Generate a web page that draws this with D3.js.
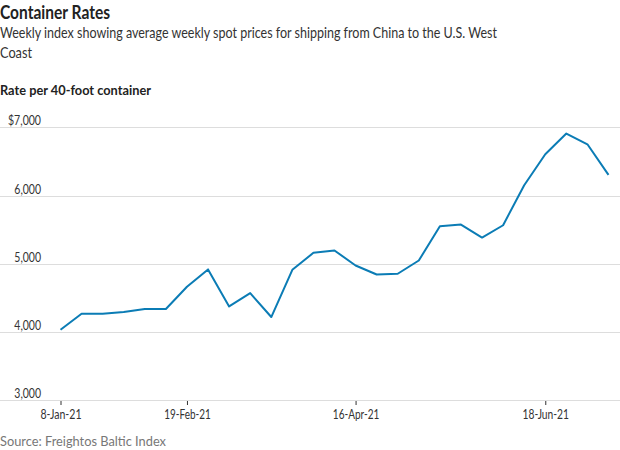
<!DOCTYPE html>
<html><head><meta charset="utf-8">
<script src="https://cdn.jsdelivr.net/npm/d3@7"></script>
<style>
body{margin:0;background:#fff;}
svg{display:block;}
</style></head>
<body><svg id="c" width="620" height="450"></svg>
<script>
const dates = ["2021-01-08","2021-01-15","2021-01-22","2021-01-29","2021-02-05","2021-02-12","2021-02-19","2021-02-26","2021-03-05","2021-03-12","2021-03-19","2021-03-26","2021-04-02","2021-04-09","2021-04-16","2021-04-23","2021-04-30","2021-05-07","2021-05-14","2021-05-21","2021-05-28","2021-06-04","2021-06-11","2021-06-18","2021-06-25","2021-07-02","2021-07-09"];
const rates = [4034,4268,4268,4293,4337,4337,4663,4918,4376,4571,4220,4912,5161,5195,4975,4843,4854,5048,5550,5575,5385,5565,6151,6605,6908,6751,6302];
const yTicks = [3000,4000,5000,6000,7000];
const xTickDates = ["2021-01-08","2021-02-19","2021-04-16","2021-06-18"];
const xTickLabels = ["8-Jan-21","19-Feb-21","16-Apr-21","18-Jun-21"];

const font = "Lato, sans-serif";
const svg = d3.select("#c");
const parse = d3.timeParse("%Y-%m-%d");
const data = dates.map((d,i)=>({date:parse(d), v:rates[i]}));

const x = d3.scaleTime().domain([parse(dates[0]), parse(dates[dates.length-1])]).range([60.5, 608.5]);
const y = d3.scaleLinear().domain([3000,7000]).range([400.3,127.3]);

function txt(xp, yp, s, size, weight, fill, len){
  const t = svg.append("text").attr("x",xp).attr("y",yp).attr("font-family",font)
    .attr("font-size",size).attr("font-weight",weight).attr("fill",fill).text(s);
  if(len) t.attr("textLength",len).attr("lengthAdjust","spacingAndGlyphs");
  return t;
}
txt(0,18.5,"Container Rates",19.5,"bold","#222",110);
txt(0,38.3,"Weekly index showing average weekly spot prices for shipping from China to the U.S. West",15,"normal","#333",497);
txt(0,57.5,"Coast",15,"normal","#333",32);
txt(0,95,"Rate per 40-foot container",13.5,"bold","#222",151);

// grid
const g = svg.append("g");
g.selectAll("line.grid").data(yTicks).join("line").attr("class","grid")
  .attr("x1",0).attr("x2",620).attr("y1",d=>Math.round(y(d))+0.5).attr("y2",d=>Math.round(y(d))+0.5)
  .attr("stroke","#ddd").attr("stroke-width",1);
g.selectAll("text.yl").data(yTicks).join("text").attr("class","yl")
  .attr("x",41).attr("y",d=>Math.round(y(d))-2.5).attr("text-anchor","end")
  .attr("font-family",font).attr("font-size",12.5).attr("fill","#333")
  .attr("textLength",d=>d===7000?33:26.7).attr("lengthAdjust","spacingAndGlyphs")
  .text(d=> (d===7000?"$":"") + d3.format(",")(d));

// x axis
const xt = xTickDates.map(parse);
const xAxis = d3.axisBottom(x).tickValues(xt).tickSize(4).tickSizeOuter(0)
  .tickFormat((d,i)=>xTickLabels[i]);
const ax = svg.append("g").attr("transform","translate(0,401)").call(xAxis);
ax.select(".domain").remove();
ax.selectAll(".tick line").attr("stroke","#333");
ax.selectAll(".tick text").attr("font-family",font).attr("font-size",12.5).attr("fill","#333")
  .attr("dy",null).attr("y",18.3)
  .attr("textLength",(d,i)=>i===0?41:46.5).attr("lengthAdjust","spacingAndGlyphs");

// line
const line = d3.line().x(d=>x(d.date)).y(d=>y(d.v));
svg.append("path").datum(data).attr("d",line).attr("fill","none")
  .attr("stroke","#0b7cb5").attr("stroke-width",2).attr("stroke-linejoin","round");

txt(0,446,"Source: Freightos Baltic Index",13,"normal","#777",166);
</script></body></html>
